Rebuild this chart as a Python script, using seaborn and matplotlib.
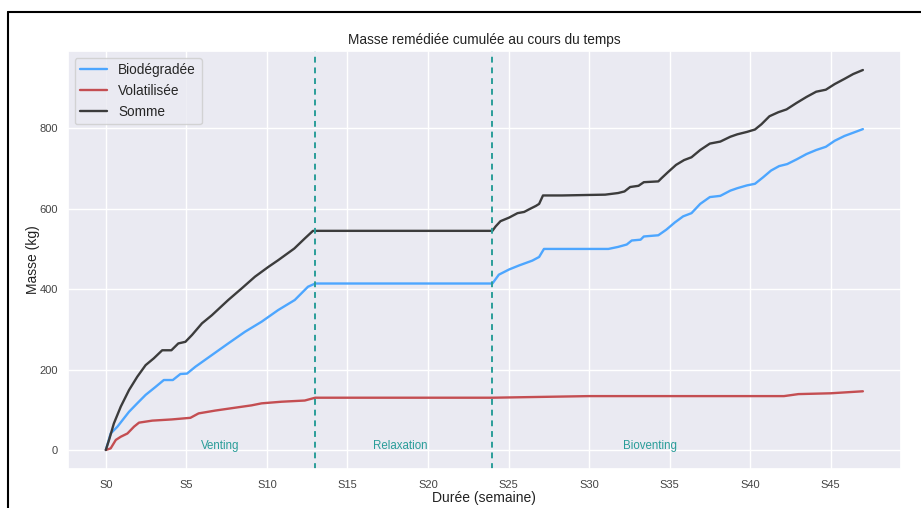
import matplotlib
matplotlib.use("Agg")
import matplotlib.pyplot as plt
from matplotlib.lines import Line2D
import seaborn as sns
import pandas as pd

# ---- data ----
weeks_bio = [0, 0.3, 0.72, 1.44, 1.95, 2.47, 3.09, 3.6, 4.16, 4.63, 5.04, 5.56, 6.58, 7.6, 8.64,
             9.67, 10.7, 11.73, 12.55, 13, 24, 24.4, 25.04, 25.66, 26.07, 26.48, 26.9, 27.2, 31.2,
             31.8, 32.34, 32.65, 33.2, 33.4, 34.3, 34.8, 35.33, 35.84, 36.36, 36.9, 37.5, 38.15,
             38.77, 39.2, 39.8, 40.3, 40.8, 41.3, 41.8, 42.3, 42.9, 43.5, 44.1, 44.7, 45.25, 45.86,
             46.4, 47]
bio = [0, 41, 58, 95, 116, 137, 157, 174, 174, 189, 190, 207, 236, 265, 294, 319, 348, 373, 406,
       414, 414, 436, 449, 459, 465, 471, 480, 500, 500, 505, 511, 521, 523, 531, 534, 548, 566,
       581, 589, 612, 629, 632, 645, 651, 658, 662, 678, 695, 706, 711, 723, 736, 746, 754, 769,
       781, 789, 798]

weeks_vol = [0, 0.3, 0.62, 0.93, 1.34, 1.75, 2.06, 2.88, 4.1, 5.25, 5.76, 6.79, 8.0, 9.05, 9.67,
             10.9, 12.35, 13, 24, 30, 42.1, 43, 45, 47]
vol = [0, 4, 25, 33, 41, 58, 68, 73, 76, 80, 91, 98, 105, 111, 116, 120, 123, 130, 130, 134, 134,
       139, 141, 146]

weeks_sum = [0, 0.2, 0.5, 0.93, 1.44, 1.95, 2.47, 2.98, 3.5, 4.07, 4.5, 4.94, 5.35, 5.97, 6.58,
             7.6, 8.44, 9.26, 10.08, 10.7, 11.7, 12.35, 12.86, 13, 24, 24.2, 24.5, 25.04, 25.56,
             25.97, 26.3, 26.7, 26.9, 27.14, 28.33, 31.0, 31.8, 32.2, 32.55, 33.07, 33.4, 34.3,
             34.5, 34.9, 35.4, 35.9, 36.36, 36.9, 37.5, 38.15, 38.77, 39.2, 39.8, 40.3, 40.7,
             41.2, 41.75, 42.26, 42.88, 43.5, 44.1, 44.7, 45.25, 45.86, 46.4, 47]
somme = [0, 25, 66, 108, 149, 182, 211, 228, 248, 248, 265, 269, 286, 315, 335, 373, 402, 431,
         455, 472, 501, 526, 545, 545, 545, 556, 569, 578, 589, 592, 599, 607, 612, 633, 633, 635,
         639, 643, 654, 657, 666, 668, 676, 691, 709, 721, 728, 746, 762, 767, 779, 785, 791, 797,
         810, 830, 840, 847, 863, 878, 891, 896, 910, 923, 935, 945]

series_names = ["Biodégradée", "Volatilisée", "Somme"]
series_colors = ["#4da6ff", "#c44e52", "#3c3c3c"]
phase_bounds = [13, 24]
phase_labels = ["Venting", "Relaxation", "Bioventing"]
phase_label_x = [7.1, 18.3, 33.8]
x_ticks = list(range(0, 50, 5))
x_tick_labels = [f"S{t}" for t in x_ticks]
y_ticks = [0, 200, 400, 600, 800]

# ---- build long table ----
df = pd.concat([
    pd.DataFrame({"Semaine": weeks_bio, "Masse": bio, "Série": series_names[0]}),
    pd.DataFrame({"Semaine": weeks_vol, "Masse": vol, "Série": series_names[1]}),
    pd.DataFrame({"Semaine": weeks_sum, "Masse": somme, "Série": series_names[2]}),
], ignore_index=True)

sns.set_theme(style="darkgrid")
plt.rcParams["font.family"] = ["Liberation Sans", "DejaVu Sans"]

fig = plt.figure(figsize=(9.21, 5.08), dpi=100)
ax = fig.add_axes([0.0738, 0.0768, 0.9042, 0.8228])

sns.lineplot(data=df, x="Semaine", y="Masse", hue="Série", hue_order=series_names,
             palette=dict(zip(series_names, series_colors)), estimator=None, sort=True,
             linewidth=1.7, ax=ax)

teal = "#2a9d99"
for b in phase_bounds:
    ax.axvline(b, color=teal, linestyle=(0, (3, 2.5)), linewidth=1.4)
for xl, lab in zip(phase_label_x, phase_labels):
    ax.text(xl, 10, lab, color=teal, ha="center", va="center", fontsize=8.3)

ax.set_xticks(x_ticks)
ax.set_xticklabels(x_tick_labels)
ax.set_yticks(y_ticks)
ax.tick_params(axis="both", labelsize=8, colors="#444444")
ax.tick_params(axis="x", pad=2)
ax.tick_params(axis="y", pad=1)
ax.set_xlabel("Durée (semaine)", fontsize=10, color="#222222", labelpad=1)
ax.set_ylabel("Masse (kg)", fontsize=10, color="#222222", labelpad=0)
ax.set_title("Masse remédiée cumulée au cours du temps", fontsize=9.8, color="#222222", pad=5)

leg = ax.legend(loc="upper left", fontsize=9.8, title=None, handlelength=2.0)

# outer frame (black border cut at right/bottom)
fig.add_artist(Line2D([8 / 921, 8 / 921], [0, 1 - 12 / 508], color="black", linewidth=1.5,
                      transform=fig.transFigure))
fig.add_artist(Line2D([8 / 921, 1], [1 - 12 / 508, 1 - 12 / 508], color="black", linewidth=1.5,
                      transform=fig.transFigure))

fig.savefig("out.png", dpi=100, facecolor="white")
